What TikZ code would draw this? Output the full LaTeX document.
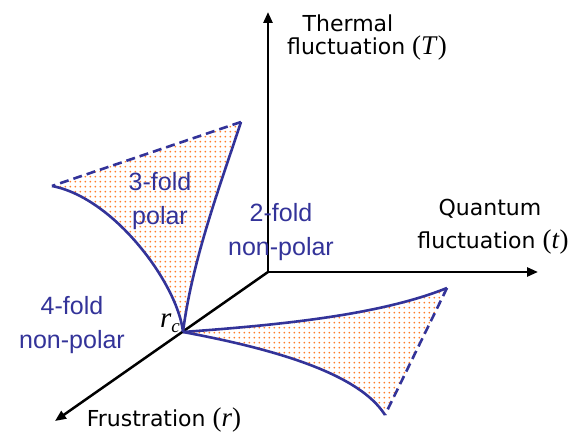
\documentclass[tikz,border=0pt]{standalone}
\usepackage{fontspec}
\setmainfont{Liberation Sans}
\newfontfamily\axfont{DejaVu Sans}
\newfontfamily\serifit{Liberation Serif}
\usetikzlibrary{arrows.meta,patterns.meta}
\definecolor{phblue}{RGB}{51,51,153}
\definecolor{dotorange}{RGB}{255,125,40}
\tikzdeclarepattern{
  name=odots,
  type=uncolored,
  bounding box={(0,0) and (4.8pt,4.8pt)},
  tile size={(4.8pt,4.8pt)},
  code={\fill (2.4pt,2.4pt) circle (1pt);}
}
\newcommand{\vr}[1]{{\serifit\fontsize{27}{28}\selectfont(\textit{#1})}}
\tikzset{
  axis/.style={line width=2.5pt,-{Triangle[length=11pt,width=9pt]}},
  bound/.style={line width=2.6pt,draw=phblue},
  phase/.style={pattern={odots},pattern color=dotorange},
  dashbound/.style={line width=2.6pt,draw=phblue,dash pattern=on 9pt off 5pt},
  axlabel/.style={font=\axfont\fontsize{22}{28}\selectfont,inner sep=0pt},
  phlabel/.style={font=\fontsize{25}{34}\selectfont,text=phblue,align=center,inner sep=0pt},
}
\begin{document}
\begin{tikzpicture}[x=1pt,y=1pt]
\useasboundingbox (0,0) rectangle (587,434);
% key points
\coordinate (O) at (268,162);
\coordinate (Ttip) at (268,422);
\coordinate (ttip) at (538,162);
\coordinate (rtip) at (55,13);
\coordinate (rc) at (183,102);
\coordinate (A) at (241,312);
\coordinate (B) at (52,248);
\coordinate (C) at (447,146);
\coordinate (D) at (385,19);
% shaded regions
\path[phase] (rc) .. controls (192,174) and (222,254) .. (A) -- (B)
  .. controls (115,236) and (178,149) .. (rc) -- cycle;
\path[phase] (rc) .. controls (280,109) and (380,119) .. (C) -- (D)
  .. controls (360,59) and (280,84) .. (rc) -- cycle;
% axes
\draw[axis] (O) -- (Ttip);
\draw[axis] (O) -- (ttip);
\draw[axis] (O) -- (rtip);
% boundaries
\draw[bound] (rc) .. controls (192,174) and (222,254) .. (A);
\draw[bound] (B) .. controls (115,236) and (178,149) .. (rc);
\draw[dashbound] (A) -- (B);
\draw[bound] (rc) .. controls (280,109) and (380,119) .. (C);
\draw[bound] (rc) .. controls (280,84) and (360,59) .. (D);
\draw[dashbound] (C) -- (D);
% axis labels
\node[axlabel] (th1) at (348,411) {Thermal};
\node[axlabel,anchor=base] (th2) at (367,379) {fluctuation \vr{T}};
\node[axlabel] (qu1) at (490,225) {Quantum};
\node[axlabel,anchor=base] (qu2) at (493,185) {fluctuation \vr{t}};
\node[axlabel,anchor=base] (fr) at (164,7) {Frustration \vr{r}};
% phase labels
\node[phlabel] (p3) at (160,233) {3-fold\\polar};
\node[phlabel] (p2) at (281,202) {2-fold\\non-polar};
\node[phlabel] (p4) at (72,109) {4-fold\\non-polar};
\node[inner sep=0pt,anchor=base] (rcl) at (170,106) {\serifit\fontsize{29}{30}\selectfont\textit{r}\raisebox{-5pt}{\fontsize{19}{20}\selectfont\textit{c}}};
\end{tikzpicture}
\end{document}
